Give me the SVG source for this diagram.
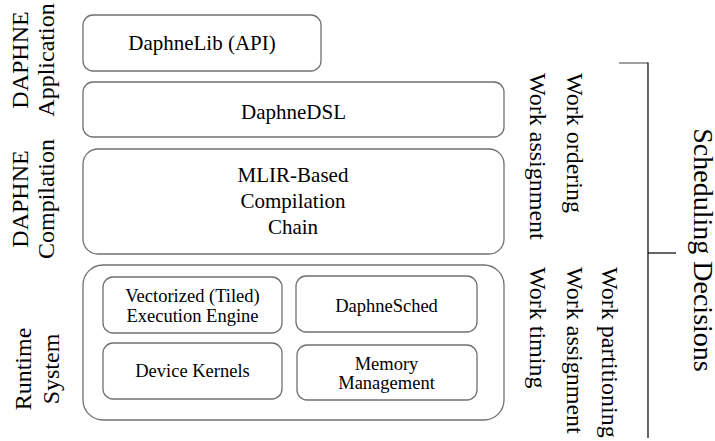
<svg xmlns="http://www.w3.org/2000/svg" width="715" height="441" viewBox="0 0 715 441">
<style>
.box{fill:#fff;stroke:#707070;stroke-width:1.3}
.b21{font-size:21px;text-anchor:middle}
.b18{font-size:18.5px;text-anchor:middle}
.lab{font-size:24px;text-anchor:middle}
.wk{font-size:24px}
</style>
<rect width="715" height="441" fill="#fff"/>
<g font-family="Liberation Serif, DejaVu Serif, serif" fill="#000">
<g id="layer-labels">
<text class="lab" transform="translate(28,60) rotate(-90)">DAPHNE</text>
<text class="lab" transform="translate(54,60) rotate(-90)">Application</text>
<text class="lab" transform="translate(28,199) rotate(-90)">DAPHNE</text>
<text class="lab" transform="translate(54,199) rotate(-90)">Compilation</text>
<text class="lab" transform="translate(31,369) rotate(-90)">Runtime</text>
<text class="lab" transform="translate(59,369) rotate(-90)">System</text>
</g>
<g id="daphnelib">
<rect class="box" x="83" y="15" width="238" height="56" rx="10"/>
<text class="b21" x="202" y="50">DaphneLib (API)</text>
</g>
<g id="daphnedsl">
<rect class="box" x="83" y="82" width="421" height="55" rx="10"/>
<text class="b21" x="293.5" y="119">DaphneDSL</text>
</g>
<g id="mlir">
<rect class="box" x="83" y="149" width="421" height="105" rx="15"/>
<text class="b21" x="293" y="182">MLIR-Based</text>
<text class="b21" x="293" y="208">Compilation</text>
<text class="b21" x="293" y="234">Chain</text>
</g>
<g id="runtime">
<rect class="box" x="83" y="265" width="421" height="155" rx="20"/>
</g>
<g id="vectorized">
<rect class="box" x="103" y="277" width="179" height="56" rx="10"/>
<text class="b18" x="192.5" y="302">Vectorized (Tiled)</text>
<text class="b18" x="192.5" y="322">Execution Engine</text>
</g>
<g id="daphnesched">
<rect class="box" x="296" y="276" width="181" height="56" rx="10"/>
<text class="b18" x="386.5" y="312">DaphneSched</text>
</g>
<g id="devicekernels">
<rect class="box" x="103" y="343" width="179" height="56" rx="10"/>
<text class="b18" x="192.5" y="377">Device Kernels</text>
</g>
<g id="memory">
<rect class="box" x="297" y="345" width="180" height="55" rx="10"/>
<text class="b18" x="386.5" y="370">Memory</text>
<text class="b18" x="386.5" y="389">Management</text>
</g>
<g id="work-labels">
<text class="wk" transform="translate(567,73) rotate(90)">Work ordering</text>
<text class="wk" transform="translate(530,73) rotate(90)">Work assignment</text>
<text class="wk" transform="translate(602,267) rotate(90)">Work partitioning</text>
<text class="wk" transform="translate(567,267) rotate(90)">Work assignment</text>
<text class="wk" transform="translate(530,267) rotate(90)">Work timing</text>
</g>
<g id="scheduling">
<text transform="translate(694,250) rotate(90)" font-size="28" text-anchor="middle">Scheduling Decisions</text>
</g>
</g>
<g id="connectors" fill="none">
<line x1="619" y1="63" x2="648" y2="63" stroke="#808080" stroke-width="1.5"/>
<line x1="648" y1="62.5" x2="648" y2="438" stroke="#000" stroke-width="1.2"/>
<line x1="648" y1="253" x2="676" y2="253" stroke="#000" stroke-width="1.2"/>
</g>
</svg>
